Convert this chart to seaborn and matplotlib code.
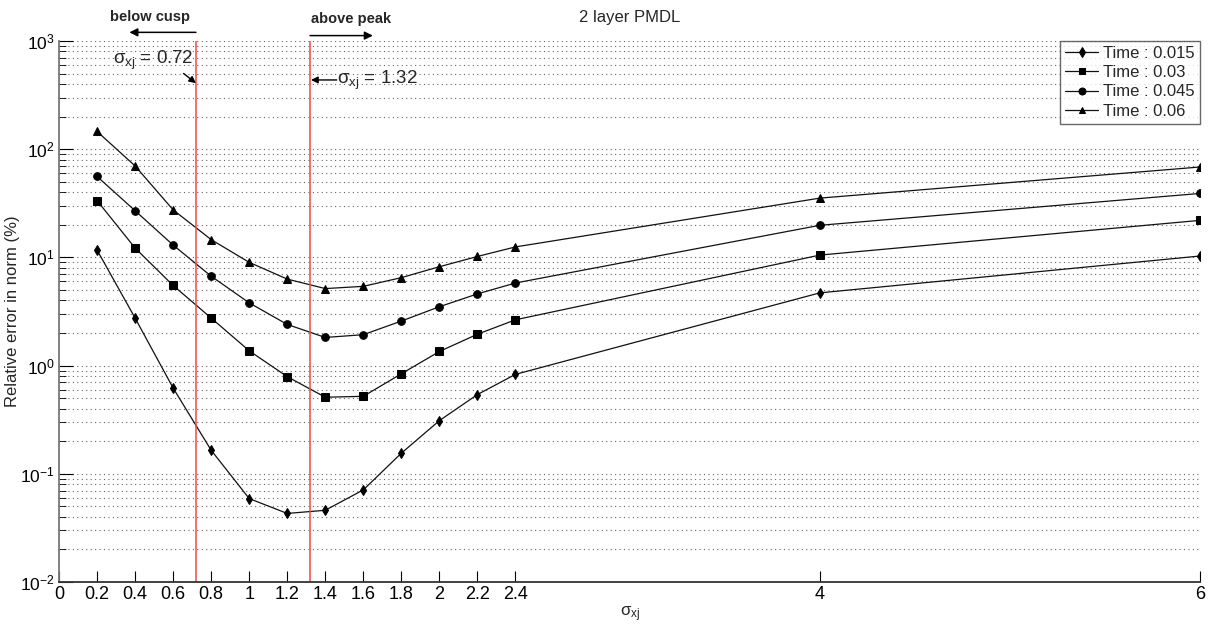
import numpy as np
import pandas as pd
import matplotlib
matplotlib.use("Agg")
import matplotlib.pyplot as plt
import matplotlib.transforms as mtransforms
from matplotlib.ticker import LogLocator, NullFormatter
import seaborn as sns

sigma = [0.2, 0.4, 0.6, 0.8, 1.0, 1.2, 1.4, 1.6, 1.8, 2.0, 2.2, 2.4, 4, 6]
t015 = [11.7, 2.75, 0.62, 0.165, 0.059, 0.043, 0.046, 0.071, 0.155, 0.31, 0.54, 0.83, 4.7, 10.3]
t030 = [33.5, 12.2, 5.5, 2.75, 1.37, 0.79, 0.51, 0.52, 0.84, 1.35, 1.95, 2.65, 10.5, 22.0]
t045 = [56.0, 27.0, 13.0, 6.7, 3.8, 2.4, 1.82, 1.93, 2.58, 3.5, 4.6, 5.8, 19.8, 39.0]
t060 = [146.0, 70.0, 27.5, 14.6, 9.0, 6.3, 5.15, 5.4, 6.5, 8.2, 10.2, 12.5, 35.3, 68.5]
series_labels = ["Time : 0.015", "Time : 0.03", "Time : 0.045", "Time : 0.06"]
series_markers = ["d", "s", "o", "^"]
xtick_vals = [0, 0.2, 0.4, 0.6, 0.8, 1, 1.2, 1.4, 1.6, 1.8, 2, 2.2, 2.4, 4, 6]
xtick_labels = ["0", "0.2", "0.4", "0.6", "0.8", "1", "1.2", "1.4", "1.6", "1.8", "2", "2.2", "2.4", "4", "6"]
cusp = 0.72
peak = 1.32

df = pd.concat([
    pd.DataFrame({"sigma": sigma, "err": vals, "series": lab})
    for vals, lab in zip([t015, t030, t045, t060], series_labels)
], ignore_index=True)

sns.set_style("white")
plt.rcParams["font.family"] = ["Liberation Sans", "DejaVu Sans"]
plt.rcParams["mathtext.fontset"] = "custom"
plt.rcParams["mathtext.rm"] = "Liberation Sans"
plt.rcParams["mathtext.it"] = "Liberation Sans:italic"
plt.rcParams["mathtext.default"] = "regular"
plt.rcParams["axes.unicode_minus"] = False

fig = plt.figure(figsize=(12.12, 6.27), dpi=100)
ax = fig.add_axes([0.0487, 0.0718, 0.9415, 0.8628])

sns.lineplot(data=df, x="sigma", y="err", hue="series", style="series",
             palette=["#111111"] * 4, markers=series_markers, dashes=False,
             markersize=5.5, markeredgecolor="black", markerfacecolor="black",
             linewidth=0.9, ax=ax)

ax.set_yscale("log")
ax.set_xlim(0, 6)
ax.set_ylim(1e-2, 1e3)
ax.set_xticks(xtick_vals)
ax.set_xticklabels(xtick_labels)
ax.yaxis.set_major_locator(LogLocator(base=10, numticks=10))
ax.yaxis.set_minor_locator(LogLocator(base=10, subs=np.arange(2, 10), numticks=100))
ax.yaxis.set_minor_formatter(NullFormatter())

ax.grid(False)
ax.yaxis.grid(True, which="both", linestyle=(0, (1, 3)), color="#666666", linewidth=0.8)
ax.tick_params(axis="both", which="both", direction="in", left=True, bottom=True, colors="black")
ax.tick_params(axis="x", labelsize=13)
ax.tick_params(axis="y", labelsize=12.5, pad=3)
ax.tick_params(axis="y", which="major", length=10)
ax.tick_params(axis="y", which="minor", length=5)
ax.tick_params(axis="x", which="major", length=8, pad=3)
for s in ["top", "right"]:
    ax.spines[s].set_visible(False)
ax.spines["left"].set_color("#777777")
ax.spines["bottom"].set_color("#333333")
ax.spines["left"].set_linewidth(1.3)
ax.spines["bottom"].set_linewidth(1.3)

ax.set_xlabel(r"$\sigma_{xj}$", fontsize=12, labelpad=1)
ax.set_ylabel("Relative error in norm (%)", fontsize=12, labelpad=0)
ax.set_title("2 layer PMDL", fontsize=12, pad=14)

ax.axvline(cusp, color="#f04848", linewidth=1.1)
ax.axvline(peak, color="#f04848", linewidth=1.1)

trans = mtransforms.blended_transform_factory(ax.transData, ax.transAxes)
ax.annotate("", xy=(0.37, 1.016), xytext=(cusp, 1.016), xycoords=trans, textcoords=trans,
            annotation_clip=False,
            arrowprops=dict(arrowstyle="-|>", color="black", lw=1.1, mutation_scale=12,
                            shrinkA=0, shrinkB=0))
ax.text(0.48, 1.045, "below cusp", transform=trans, ha="center", va="center",
        fontsize=10.5, fontweight="bold")
ax.annotate("", xy=(1.65, 1.010), xytext=(peak, 1.010), xycoords=trans, textcoords=trans,
            annotation_clip=False,
            arrowprops=dict(arrowstyle="-|>", color="black", lw=1.1, mutation_scale=12,
                            shrinkA=0, shrinkB=0))
ax.text(1.535, 1.040, "above peak", transform=trans, ha="center", va="center",
        fontsize=10.5, fontweight="bold")

ax.text(0.285, 0.965, r"$\sigma_{xj}$ = 0.72", transform=trans, ha="left", va="center",
        fontsize=13.5)
ax.annotate("", xy=(cusp, 0.922), xytext=(0.655, 0.940), xycoords=trans, textcoords=trans,
            arrowprops=dict(arrowstyle="-|>", color="black", lw=1.0, mutation_scale=10,
                            shrinkA=0, shrinkB=0))
ax.text(1.46, 0.928, r"$\sigma_{xj}$ = 1.32", transform=trans, ha="left", va="center",
        fontsize=13.5)
ax.annotate("", xy=(peak + 0.005, 0.928), xytext=(1.46, 0.928), xycoords=trans, textcoords=trans,
            arrowprops=dict(arrowstyle="-|>", color="black", lw=1.0, mutation_scale=10,
                            shrinkA=0, shrinkB=0))

leg = ax.legend(loc="upper right", fontsize=12, frameon=True, fancybox=False,
                borderaxespad=0.0, handlelength=2.0, handletextpad=0.3,
                labelspacing=0.25, borderpad=0.3, title=None)
leg.get_frame().set_edgecolor("#444444")
leg.get_frame().set_linewidth(1.0)
for h in leg.legend_handles:
    h.set_markersize(5)

fig.savefig("out.png", dpi=100)
